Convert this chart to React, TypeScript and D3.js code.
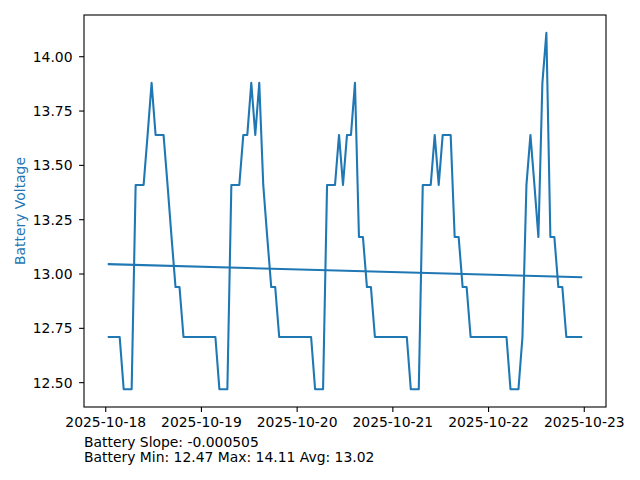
import { useEffect } from "react";
import * as d3 from "d3";

// hourly readings, 2025-10-18 00:30 UTC onwards
const startTime = Date.UTC(2025, 9, 18, 0, 30);
const day1 = [12.71, 12.71, 12.71, 12.71, 12.47, 12.47, 12.47, 13.41, 13.41, 13.41, 13.64, 13.88, 13.64, 13.64, 13.64, 13.41, 13.17, 12.94, 12.94, 12.71, 12.71, 12.71, 12.71, 12.71];
const day2 = [12.71, 12.71, 12.71, 12.71, 12.47, 12.47, 12.47, 13.41, 13.41, 13.41, 13.64, 13.64, 13.88, 13.64, 13.88, 13.41, 13.17, 12.94, 12.94, 12.71, 12.71, 12.71, 12.71, 12.71];
const day3 = [12.71, 12.71, 12.71, 12.71, 12.47, 12.47, 12.47, 13.41, 13.41, 13.41, 13.64, 13.41, 13.64, 13.64, 13.88, 13.17, 13.17, 12.94, 12.94, 12.71, 12.71, 12.71, 12.71, 12.71];
const day4 = [12.71, 12.71, 12.71, 12.71, 12.47, 12.47, 12.47, 13.41, 13.41, 13.41, 13.64, 13.41, 13.64, 13.64, 13.64, 13.17, 13.17, 12.94, 12.94, 12.71, 12.71, 12.71, 12.71, 12.71];
const day5 = [12.71, 12.71, 12.71, 12.71, 12.71, 12.47, 12.47, 12.47, 12.71, 13.41, 13.64, 13.41, 13.17, 13.88, 14.11, 13.17, 13.17, 12.94, 12.94, 12.71, 12.71, 12.71, 12.71, 12.71];
const voltages = [...day1, ...day2, ...day3, ...day4, ...day5];

const yTicks = [12.5, 12.75, 13.0, 13.25, 13.5, 13.75, 14.0];
const xTickDates = ["2025-10-18", "2025-10-19", "2025-10-20", "2025-10-21", "2025-10-22", "2025-10-23"];
const footerLines = ["Battery Slope: -0.000505", "Battery Min: 12.47 Max: 14.11 Avg: 13.02"];

const W = 640;
const H = 480;
const left = 84;
const right = 606;
const top = 15;
const bottom = 407;
const blue = "#1f77b4";
const font = "DejaVu Sans, sans-serif";

export default function App() {
  useEffect(() => {
    document.body.style.margin = "0";
  }, []);

  const points = voltages.map((v, i) => ({ t: new Date(startTime + i * 3600000), v, i }));
  const t0 = points[0].t.getTime();
  const t1 = points[points.length - 1].t.getTime();
  const tPad = (t1 - t0) * 0.05;
  const x = d3.scaleUtc().domain([t0 - tPad, t1 + tPad]).range([left, right]);

  const vMin = d3.min(voltages)!;
  const vMax = d3.max(voltages)!;
  const vPad = (vMax - vMin) * 0.05;
  const y = d3.scaleLinear().domain([vMin - vPad, vMax + vPad]).range([bottom, top]);

  // least squares trend over hour index
  const n = voltages.length;
  const mi = d3.mean(points, (p) => p.i)!;
  const mv = d3.mean(voltages)!;
  const slope =
    d3.sum(points, (p) => (p.i - mi) * (p.v - mv)) / d3.sum(points, (p) => (p.i - mi) ** 2);
  const intercept = mv - slope * mi;
  const trend = [points[0], points[n - 1]].map((p) => ({ t: p.t, v: intercept + slope * p.i }));

  const line = d3
    .line<{ t: Date; v: number }>()
    .x((d) => x(d.t))
    .y((d) => y(d.v));

  return (
    <svg width={W} height={H} style={{ display: "block", background: "#fff" }} fontFamily={font}>
      <path d={line(points) ?? ""} fill="none" stroke={blue} strokeWidth={2.08} strokeLinejoin="round" />
      <path d={line(trend) ?? ""} fill="none" stroke={blue} strokeWidth={2.08} />

      <rect x={left} y={top} width={right - left} height={bottom - top} fill="none" stroke="#000" strokeWidth={1.1} />

      {yTicks.map((t) => (
        <g key={t}>
          <line x1={left - 4.9} x2={left} y1={y(t)} y2={y(t)} stroke="#000" strokeWidth={1.1} />
          <text x={left - 11.5} y={y(t)} dy="0.36em" textAnchor="end" fontSize={13.9} fill="#000">
            {t.toFixed(2)}
          </text>
        </g>
      ))}

      {xTickDates.map((d) => {
        const px = x(new Date(d + "T00:00:00Z"));
        return (
          <g key={d}>
            <line x1={px} x2={px} y1={bottom} y2={bottom + 4.9} stroke="#000" strokeWidth={1.1} />
            <text x={px} y={bottom + 20} textAnchor="middle" fontSize={13.9} fill="#000">
              {d}
            </text>
          </g>
        );
      })}

      <text
        transform={`translate(25,${(top + bottom) / 2}) rotate(-90)`}
        textAnchor="middle"
        fontSize={13.9}
        fill={blue}
      >
        Battery Voltage
      </text>

      {footerLines.map((s, k) => (
        <text key={k} x={left} y={446.5 + k * 15.5} fontSize={13.9} fill="#000">
          {s}
        </text>
      ))}
    </svg>
  );
}
